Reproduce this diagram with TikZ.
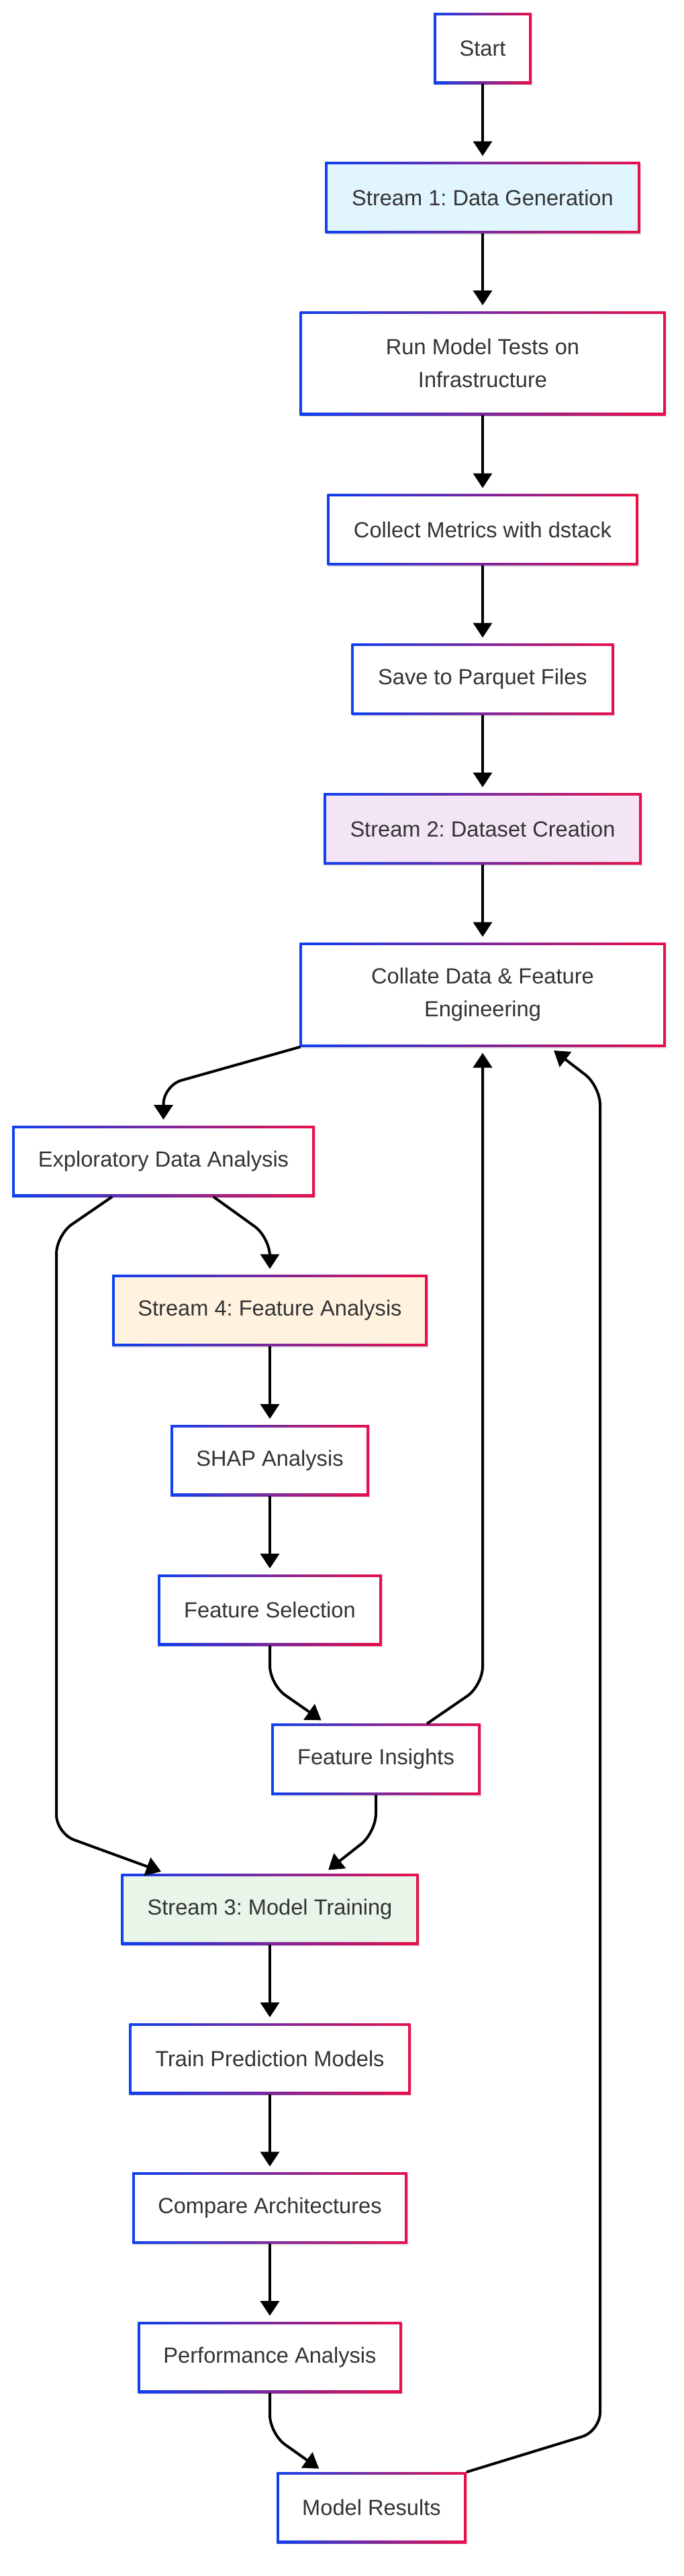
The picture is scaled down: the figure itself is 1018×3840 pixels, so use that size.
\documentclass[tikz,border=0pt]{standalone}
\usepackage{fontspec}
\setmainfont{Liberation Sans}
\frenchspacing
\usetikzlibrary{arrows.meta,calc,shadows}
\definecolor{gblue}{HTML}{1040F0}
\definecolor{gred}{HTML}{E8104A}
\definecolor{txt}{HTML}{333333}
\definecolor{fblue}{HTML}{E1F5FE}
\definecolor{fpurple}{HTML}{F3E5F5}
\definecolor{fgreen}{HTML}{E8F5E9}
\definecolor{forange}{HTML}{FFF3E0}
\tikzset{
  box/.style={rectangle, inner sep=0pt, outer sep=0pt,
    left color=gblue, right color=gred, shading angle=90,
    text=txt, align=center, minimum height=53pt,
    font=\fontsize{16.3pt}{24.5pt}\selectfont,
    drop shadow={shadow xshift=0.6pt, shadow yshift=-1.2pt, opacity=0.12, fill=black},
    path picture={\fill[#1] ([xshift=1.9pt,yshift=1.9pt]path picture bounding box.south west)
      rectangle ([xshift=-1.9pt,yshift=-1.9pt]path picture bounding box.north east);}},
  box/.default=white,
  tallbox/.style={box=#1, minimum height=77.5pt},
  tallbox/.default=white,
  conn/.style={draw=black, line width=2pt, shorten >=4.5pt,
    -{Triangle[length=11pt,width=14pt]}},
  curved/.style={conn, rounded corners=14pt}
}
\begin{document}
\begin{tikzpicture}[x=0.5pt,y=-0.5pt]
\useasboundingbox (0,0) rectangle (1018,3840);
% nodes
\node[box, minimum width=73pt] (start) at (719,72) {Start};
\node[box=fblue, minimum width=234.5pt] (s1) at (719,294.5) {Stream 1: Data Generation};
\node[tallbox, minimum width=272.5pt] (run) at (719,541.5) {Run Model Tests on\\Infrastructure};
\node[box, minimum width=231.5pt] (collect) at (719,789.5) {Collect Metrics with dstack};
\node[box, minimum width=195.5pt] (save) at (719,1012.5) {Save to Parquet Files};
\node[box=fpurple, minimum width=237pt] (s2) at (719,1235.5) {Stream 2: Dataset Creation};
\node[tallbox, minimum width=272.5pt] (collate) at (719,1483) {Collate Data \& Feature\\Engineering};
\node[box, minimum width=225.5pt] (eda) at (243.5,1731) {Exploratory Data Analysis};
\node[box=forange, minimum width=235pt] (s4) at (402,1953.5) {Stream 4: Feature Analysis};
\node[box, minimum width=148pt] (shap) at (402,2177) {SHAP Analysis};
\node[box, minimum width=167pt] (fs) at (402,2400) {Feature Selection};
\node[box, minimum width=156pt] (fi) at (560,2622.5) {Feature Insights};
\node[box=fgreen, minimum width=221.5pt] (s3) at (402,2846) {Stream 3: Model Training};
\node[box, minimum width=209.5pt] (train) at (402,3069) {Train Prediction Models};
\node[box, minimum width=205pt] (compare) at (402,3291.5) {Compare Architectures};
\node[box, minimum width=196.5pt] (perf) at (402,3514) {Performance Analysis};
\node[box, minimum width=141.5pt] (mr) at (553.5,3738) {Model Results};
% straight connectors
\draw[conn] (start) -- (s1);
\draw[conn] (s1) -- (run);
\draw[conn] (run) -- (collect);
\draw[conn] (collect) -- (save);
\draw[conn] (save) -- (s2);
\draw[conn] (s2) -- (collate);
\draw[conn] (s4) -- (shap);
\draw[conn] (shap) -- (fs);
\draw[conn] (s3) -- (train);
\draw[conn] (train) -- (compare);
\draw[conn] (compare) -- (perf);
% curved connectors
\draw[curved] ($(collate.south west)+(1,0)$) -- ($(eda.north)+(0,-60)$) -- (eda.north);
\draw[curved] ($(eda.south)+(74.5,0)$) -- ($(s4.north)+(0,-56)$) -- (s4.north);
\draw[curved] ($(eda.south)+(-76.5,0)$) -- ($(eda.south)+(-159.5,57)$)
   -- ($(eda.south)+(-159.5,949)$) -- ($(s3.north west)+(68,0)$);
\draw[curved] (fs.south) -- ($(fs.south)+(0,58)$) -- ($(fi.north)+(-74,0)$);
\draw[curved] ($(fi.north)+(76,0)$) -- ($(collate.south)+(0,952)$) -- (collate.south);
\draw[curved] (fi.south) -- ($(fi.south)+(0,56)$) -- ($(s3.north)+(80,0)$);
\draw[curved] (perf.south) -- ($(perf.south)+(0,61)$) -- ($(mr.north)+(-71,0)$);
\draw[curved] (mr.north east) -- ($(mr.north east)+(199,-61)$)
   -- ($(mr.north east)+(199,-2066)$) -- ($(collate.south)+(99,0)$);
\end{tikzpicture}
\end{document}
